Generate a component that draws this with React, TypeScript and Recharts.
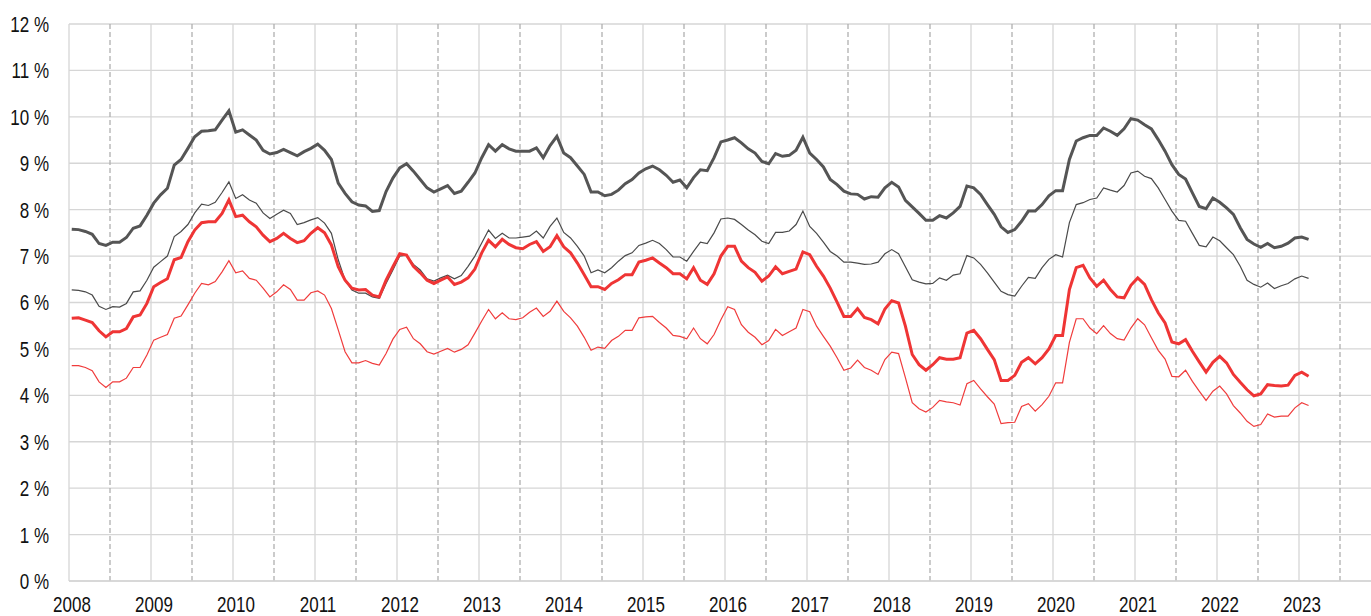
import React from "react";
import { LineChart, Line, XAxis, YAxis, CartesianGrid, ReferenceLine } from "recharts";

// monthly values, Jan 2008 .. Feb 2023
const startYear = 2008;
const yearTicks = [2008, 2009, 2010, 2011, 2012, 2013, 2014, 2015, 2016, 2017, 2018, 2019, 2020, 2021, 2022, 2023];
const percentTicks = [0, 1, 2, 3, 4, 5, 6, 7, 8, 9, 10, 11, 12];

const darkThick = [
  7.58, 7.57, 7.53, 7.47, 7.27, 7.23, 7.3, 7.3, 7.4, 7.6, 7.65, 7.88,
  8.14, 8.32, 8.46, 8.96, 9.08, 9.32, 9.57, 9.69, 9.7, 9.72, 9.93, 10.13,
  9.67, 9.72, 9.61, 9.5, 9.28, 9.2, 9.23, 9.3, 9.23, 9.16, 9.25, 9.32,
  9.41, 9.28, 9.08, 8.57, 8.35, 8.17, 8.1, 8.08, 7.96, 7.98, 8.39, 8.68,
  8.9, 8.99, 8.83, 8.65, 8.47, 8.38, 8.45, 8.52, 8.35, 8.4, 8.59, 8.79,
  9.12, 9.4, 9.26, 9.4, 9.31, 9.26, 9.26, 9.26, 9.33, 9.12, 9.38, 9.58,
  9.22, 9.12, 8.94, 8.76, 8.38, 8.38, 8.3, 8.33, 8.42, 8.56, 8.65, 8.79,
  8.88, 8.94, 8.86, 8.74, 8.59, 8.64, 8.47, 8.69, 8.86, 8.84, 9.12, 9.46,
  9.5, 9.55, 9.44, 9.31, 9.22, 9.04, 8.99, 9.21, 9.15, 9.17, 9.28, 9.56,
  9.22, 9.08, 8.92, 8.65, 8.54, 8.4, 8.34, 8.33, 8.23, 8.28, 8.27, 8.47,
  8.59, 8.49, 8.2, 8.06, 7.92, 7.77, 7.77, 7.87, 7.82, 7.93, 8.07, 8.51,
  8.47, 8.33, 8.11, 7.9, 7.63, 7.51, 7.57, 7.75, 7.97, 7.97, 8.11, 8.3,
  8.41, 8.41, 9.08, 9.48, 9.55, 9.6, 9.6, 9.76, 9.69, 9.6, 9.74, 9.96,
  9.93, 9.83, 9.74, 9.51, 9.26, 8.97, 8.76, 8.66, 8.36, 8.07, 8.02, 8.25,
  8.16, 8.04, 7.9, 7.61, 7.36, 7.26, 7.19, 7.27, 7.18, 7.21, 7.28, 7.39,
  7.41, 7.36,
];

const darkThin = [
  6.27, 6.26, 6.23, 6.16, 5.92, 5.85, 5.91, 5.9, 5.98, 6.23, 6.25, 6.48,
  6.76, 6.88, 7.0, 7.42, 7.53, 7.68, 7.93, 8.12, 8.09, 8.16, 8.37, 8.6,
  8.24, 8.32, 8.21, 8.14, 7.93, 7.81, 7.9, 7.99, 7.92, 7.68, 7.72, 7.78,
  7.83, 7.71, 7.49, 6.92, 6.48, 6.27, 6.2, 6.2, 6.12, 6.09, 6.41, 6.7,
  7.0, 7.02, 6.82, 6.7, 6.51, 6.46, 6.53, 6.59, 6.51, 6.58, 6.78, 7.0,
  7.28, 7.56, 7.38, 7.49, 7.39, 7.39, 7.41, 7.43, 7.54, 7.39, 7.64, 7.82,
  7.51, 7.39, 7.21, 7.0, 6.64, 6.7, 6.64, 6.75, 6.89, 7.01, 7.07, 7.23,
  7.28, 7.34, 7.27, 7.14, 6.98, 6.98, 6.89, 7.1, 7.3, 7.27, 7.5, 7.8,
  7.82, 7.79, 7.68, 7.56, 7.46, 7.32, 7.27, 7.51, 7.51, 7.54, 7.68, 7.97,
  7.64, 7.49, 7.3, 7.1, 7.0, 6.87, 6.87, 6.85, 6.82, 6.83, 6.87, 7.05,
  7.14, 7.05, 6.77, 6.49, 6.44, 6.4, 6.41, 6.53, 6.48, 6.59, 6.62, 7.01,
  6.96, 6.82, 6.64, 6.44, 6.24, 6.17, 6.14, 6.35, 6.54, 6.52, 6.75, 6.93,
  7.03, 6.98, 7.72, 8.11, 8.15, 8.22, 8.25, 8.47, 8.42, 8.38, 8.52, 8.79,
  8.83, 8.72, 8.67, 8.47, 8.22, 7.97, 7.77, 7.75, 7.49, 7.23, 7.2, 7.41,
  7.33, 7.18, 7.03, 6.78, 6.48, 6.39, 6.33, 6.42, 6.3, 6.36, 6.41, 6.51,
  6.57, 6.52,
];

const redThick = [
  5.66, 5.67, 5.62, 5.57, 5.39, 5.26, 5.37, 5.37, 5.44, 5.69, 5.73, 5.98,
  6.34, 6.43, 6.51, 6.92, 6.97, 7.31, 7.56, 7.72, 7.74, 7.74, 7.92, 8.21,
  7.85, 7.88, 7.74, 7.63, 7.45, 7.31, 7.38, 7.49, 7.38, 7.29, 7.33, 7.49,
  7.61, 7.5, 7.24, 6.77, 6.48, 6.31, 6.27, 6.28, 6.16, 6.12, 6.48, 6.77,
  7.05, 7.02, 6.78, 6.64, 6.48, 6.41, 6.48, 6.55, 6.39, 6.44, 6.53, 6.72,
  7.07, 7.34, 7.2, 7.36, 7.25, 7.18, 7.16, 7.25, 7.31, 7.1, 7.2, 7.44,
  7.2, 7.07, 6.85, 6.6, 6.34, 6.34, 6.28, 6.41, 6.49, 6.6, 6.6, 6.87,
  6.91, 6.96, 6.85, 6.75, 6.62, 6.62, 6.51, 6.75, 6.48, 6.39, 6.62, 7.0,
  7.21, 7.21, 6.89, 6.75, 6.65, 6.46, 6.57, 6.77, 6.62, 6.67, 6.72, 7.09,
  7.03, 6.78, 6.57, 6.31, 6.01, 5.7, 5.7, 5.87, 5.68, 5.63, 5.54, 5.86,
  6.04, 5.99, 5.49, 4.88, 4.66, 4.54, 4.66, 4.81, 4.78, 4.78, 4.81, 5.34,
  5.4, 5.22, 4.99, 4.77, 4.32, 4.32, 4.43, 4.71, 4.81, 4.68, 4.81, 5.0,
  5.29, 5.29, 6.28, 6.75, 6.8, 6.53, 6.35, 6.48, 6.28, 6.12, 6.1, 6.37,
  6.53, 6.39, 6.06, 5.78, 5.56, 5.15, 5.11, 5.2, 4.95, 4.72, 4.5, 4.71,
  4.84, 4.7, 4.45, 4.28, 4.12, 3.99, 4.03, 4.23, 4.21, 4.2, 4.22, 4.43,
  4.5, 4.41,
];

const redThin = [
  4.64, 4.64, 4.6, 4.53, 4.29, 4.17, 4.29, 4.29, 4.37, 4.6, 4.6, 4.87,
  5.19, 5.25, 5.31, 5.66, 5.71, 5.95, 6.2, 6.41, 6.38, 6.45, 6.66, 6.9,
  6.64, 6.68, 6.52, 6.48, 6.31, 6.12, 6.23, 6.38, 6.28, 6.05, 6.05, 6.21,
  6.25, 6.16, 5.87, 5.41, 4.94, 4.7, 4.7, 4.75, 4.69, 4.65, 4.9, 5.21,
  5.42, 5.47, 5.22, 5.11, 4.94, 4.89, 4.95, 5.01, 4.93, 4.99, 5.09, 5.34,
  5.6, 5.85, 5.65, 5.78, 5.65, 5.63, 5.67, 5.79, 5.88, 5.7, 5.81, 6.03,
  5.81, 5.67, 5.49, 5.25, 4.97, 5.04, 5.01, 5.18, 5.27, 5.4, 5.4, 5.67,
  5.69, 5.7, 5.57, 5.45, 5.29, 5.27, 5.22, 5.45, 5.22, 5.11, 5.31, 5.63,
  5.91, 5.85, 5.52, 5.36, 5.25, 5.09, 5.18, 5.42, 5.29, 5.37, 5.45, 5.85,
  5.8, 5.49, 5.27, 5.06, 4.81, 4.54, 4.59, 4.76, 4.6, 4.54, 4.45, 4.77,
  4.93, 4.9, 4.38, 3.84, 3.71, 3.64, 3.74, 3.89, 3.86, 3.84, 3.79, 4.25,
  4.32, 4.14, 3.97, 3.81, 3.39, 3.41, 3.42, 3.76, 3.82, 3.66, 3.8, 3.98,
  4.27, 4.27, 5.14, 5.65, 5.65, 5.45, 5.33, 5.5, 5.33, 5.22, 5.19, 5.45,
  5.65, 5.52, 5.24, 4.97, 4.78, 4.41, 4.4, 4.54, 4.3, 4.09, 3.89, 4.09,
  4.2, 4.03, 3.78, 3.62, 3.44, 3.33, 3.37, 3.6, 3.53, 3.55, 3.55, 3.73,
  3.84, 3.78,
];

const data = darkThick.map((v, i) => ({
  t: startYear + (i + 0.4) / 12,
  darkThick: v,
  darkThin: darkThin[i],
  redThick: redThick[i],
  redThin: redThin[i],
}));

const FONT = "'Liberation Sans', Arial, sans-serif";

const YTick = ({ x, y, payload }: any) => (
  <text
    transform={`translate(${x - 20},${y}) scale(1,1.35)`}
    textAnchor="end"
    dominantBaseline="central"
    fontSize={17}
    fontFamily={FONT}
    fill="#111"
  >
    {payload.value} %
  </text>
);

const XTick = ({ x, payload }: any) => (
  <text
    transform={`translate(${x + 3},${604.5}) scale(1,1.33)`}
    textAnchor="middle"
    dominantBaseline="central"
    fontSize={17}
    fontFamily={FONT}
    fill="#111"
  >
    {payload.value}
  </text>
);

export default function App() {
  return (
    <div style={{ position: "absolute", left: 0, top: 0, width: 1371, height: 616, overflow: "hidden", background: "#fff" }}>
      <LineChart width={1386} height={616} data={data} margin={{ top: 24, right: 5, left: 0, bottom: 0 }}>
        <CartesianGrid vertical={false} stroke="#d6d6d6" strokeWidth={1.3} />
        {yearTicks.slice(1).map((yr) => (
          <ReferenceLine key={yr} x={yr} stroke="#d6d6d6" strokeWidth={1.3} />
        ))}
        {yearTicks.map((yr) => (
          <ReferenceLine key={`h${yr}`} x={yr + 0.5} stroke="#b0b0b0" strokeWidth={1.3} strokeDasharray="5 3" />
        ))}
        <XAxis
          dataKey="t"
          type="number"
          domain={[2008, 2024]}
          ticks={yearTicks}
          height={35}
          tickSize={0}
          tickMargin={0}
          tickLine={false}
          axisLine={{ stroke: "#d6d6d6", strokeWidth: 1.3 }}
          tick={<XTick />}
          interval={0}
          allowDataOverflow
        />
        <YAxis
          type="number"
          domain={[0, 12]}
          ticks={percentTicks}
          width={69}
          tickSize={0}
          tickMargin={0}
          tickLine={false}
          axisLine={{ stroke: "#d6d6d6", strokeWidth: 1.3 }}
          tick={<YTick />}
          interval={0}
        />
        <Line type="linear" dataKey="redThin" stroke="#f03c3c" strokeWidth={1.2} dot={false} isAnimationActive={false} />
        <Line type="linear" dataKey="darkThin" stroke="#4a4a4a" strokeWidth={1.2} dot={false} isAnimationActive={false} />
        <Line type="linear" dataKey="redThick" stroke="#ef3535" strokeWidth={3} dot={false} isAnimationActive={false} />
        <Line type="linear" dataKey="darkThick" stroke="#555555" strokeWidth={3} dot={false} isAnimationActive={false} />
      </LineChart>
    </div>
  );
}
